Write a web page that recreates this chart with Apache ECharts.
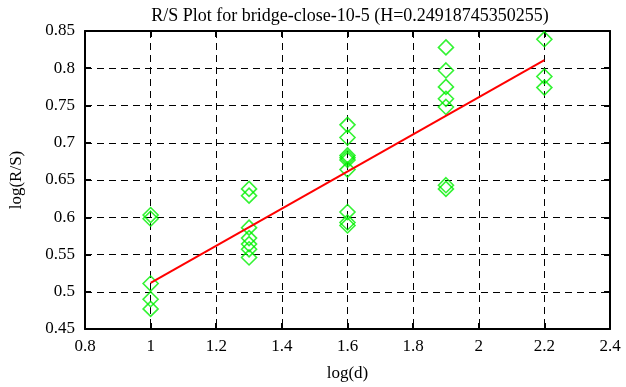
<!DOCTYPE html>
<html><head><meta charset="utf-8">
<script src="https://cdn.jsdelivr.net/npm/echarts@6/dist/echarts.min.js"></script>
<style>html,body{margin:0;padding:0;background:#fff}#c{width:626px;height:387px}</style>
</head><body><div id="c"></div>
<script>
const titleText = 'R/S Plot for bridge-close-10-5 (H=0.24918745350255)';
const xName = 'log(d)';
const yName = 'log(R/S)';
const xs = [1, 1.3, 1.6, 1.9, 2.2];
const ys1 = [0.603, 0.598, 0.511, 0.490, 0.477];
const ys13 = [0.638, 0.629, 0.586, 0.572, 0.564, 0.557, 0.546];
const ys16 = [0.724, 0.707, 0.683, 0.680, 0.677, 0.664, 0.607, 0.593, 0.589];
const ys19 = [0.828, 0.797, 0.775, 0.759, 0.748, 0.643, 0.638];
const ys22 = [0.839, 0.789, 0.774];
const fitX = [1, 2.2];
const fitY = [0.512, 0.811];

const groups = [ys1, ys13, ys16, ys19, ys22];
const pts = [];
groups.forEach((g, i) => g.forEach(v => pts.push([xs[i], v])));
const fit = fitX.map((x, i) => [x, fitY[i]]);

const font = 'Liberation Serif';
const chart = echarts.init(document.getElementById('c'));
const axisCommon = {
  axisLine: {show: true, lineStyle: {color: '#000', width: 2}},
  axisTick: {show: true, inside: true, length: 6, lineStyle: {color: '#000', width: 2}},
  splitLine: {show: false},
};
chart.setOption({
  animation: false,
  backgroundColor: '#fff',
  title: {text: titleText, left: 345, top: 2, textAlign: 'center',
    textStyle: {fontFamily: font, fontSize: 18, fontWeight: 'normal', color: '#000'}},
  grid: {left: 82, top: 31, right: 16, bottom: 56, containLabel: false},
  xAxis: [
    Object.assign({}, axisCommon, {type: 'value', min: 0.8, max: 2.4, interval: 0.2,
      name: xName, nameLocation: 'middle', nameGap: 36,
      nameTextStyle: {fontFamily: font, fontSize: 17, color: '#000'},
      axisLabel: {fontFamily: font, fontSize: 17, color: '#000', margin: 9,
        formatter: v => String(+v.toFixed(1))},
      splitLine: {show: true, lineStyle: {color: '#000', type: [7, 5], width: 1}}}),
    Object.assign({}, axisCommon, {type: 'value', position: 'top', min: 0.8, max: 2.4, interval: 0.2,
      axisLabel: {show: false}})
  ],
  yAxis: [
    Object.assign({}, axisCommon, {type: 'value', min: 0.45, max: 0.85, interval: 0.05,
      name: yName, nameLocation: 'middle', nameGap: 60, nameRotate: 90,
      nameTextStyle: {fontFamily: font, fontSize: 17, color: '#000'},
      axisLabel: {fontFamily: font, fontSize: 17, color: '#000', margin: 10,
        formatter: v => String(+v.toFixed(2))},
      splitLine: {show: true, lineStyle: {color: '#000', type: [7, 5], width: 1}}}),
    Object.assign({}, axisCommon, {type: 'value', position: 'right', min: 0.45, max: 0.85, interval: 0.05,
      axisLabel: {show: false}})
  ],
  series: [
    {type: 'scatter', data: pts, symbol: 'diamond', symbolSize: 15,
      itemStyle: {color: 'rgba(0,0,0,0)', borderColor: '#00f000', borderWidth: 1.6}, z: 3},
    {type: 'line', data: fit, symbol: 'none', lineStyle: {color: '#ff0000', width: 2}, z: 4}
  ]
});
</script></body></html>
